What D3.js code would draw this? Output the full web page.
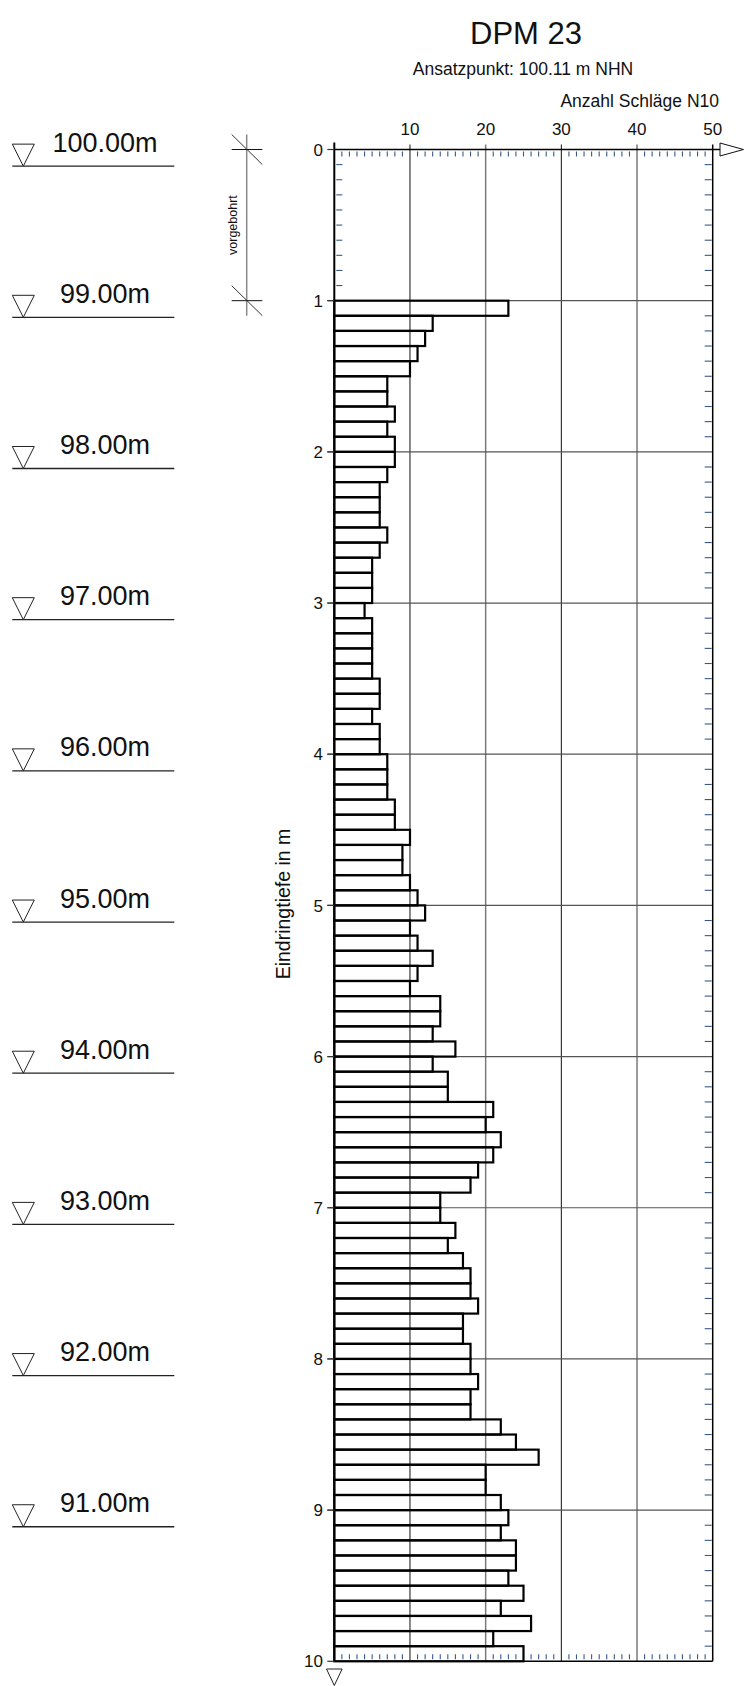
<!DOCTYPE html>
<html>
<head>
<meta charset="utf-8">
<script src="https://cdn.jsdelivr.net/npm/d3@7"></script>
<style>
  html, body { margin: 0; padding: 0; background: #fff; }
  svg { display: block; }
  text { font-family: "Liberation Sans", Arial, Helvetica, sans-serif; fill: #111; }
</style>
</head>
<body>
<svg id="chart" width="748" height="1686"></svg>
<script>
// ---- data ----
const title = "DPM 23";
const subtitle = "Ansatzpunkt: 100.11 m NHN";
const startElevation = 100.11;
const xAxisTitle = "Anzahl Schläge N10";
const yAxisTitle = "Eindringtiefe in m";
const predrillLabel = "vorgebohrt";
const predrillFrom = 0;
const predrillTo = 1;

const depthTop = [
  1.0, 1.1, 1.2, 1.3, 1.4, 1.5, 1.6, 1.7, 1.8, 1.9,
  2.0, 2.1, 2.2, 2.3, 2.4, 2.5, 2.6, 2.7, 2.8, 2.9,
  3.0, 3.1, 3.2, 3.3, 3.4, 3.5, 3.6, 3.7, 3.8, 3.9,
  4.0, 4.1, 4.2, 4.3, 4.4, 4.5, 4.6, 4.7, 4.8, 4.9,
  5.0, 5.1, 5.2, 5.3, 5.4, 5.5, 5.6, 5.7, 5.8, 5.9,
  6.0, 6.1, 6.2, 6.3, 6.4, 6.5, 6.6, 6.7, 6.8, 6.9,
  7.0, 7.1, 7.2, 7.3, 7.4, 7.5, 7.6, 7.7, 7.8, 7.9,
  8.0, 8.1, 8.2, 8.3, 8.4, 8.5, 8.6, 8.7, 8.8, 8.9,
  9.0, 9.1, 9.2, 9.3, 9.4, 9.5, 9.6, 9.7, 9.8, 9.9
];
const blows = [
  23, 13, 12, 11, 10, 7, 7, 8, 7, 8,
  8, 7, 6, 6, 6, 7, 6, 5, 5, 5,
  4, 5, 5, 5, 5, 6, 6, 5, 6, 6,
  7, 7, 7, 8, 8, 10, 9, 9, 10, 11,
  12, 10, 11, 13, 11, 10, 14, 14, 13, 16,
  13, 15, 15, 21, 20, 22, 21, 19, 18, 14,
  14, 16, 15, 17, 18, 18, 19, 17, 17, 18,
  18, 19, 18, 18, 22, 24, 27, 20, 20, 22,
  23, 22, 24, 24, 23, 25, 22, 26, 21, 25
];
const intervalLength = 0.1;

const xTicks = [10, 20, 30, 40, 50];
const yTicks = [0, 1, 2, 3, 4, 5, 6, 7, 8, 9, 10];
const levels = [100, 99, 98, 97, 96, 95, 94, 93, 92, 91];

// ---- scales ----
const svg = d3.select("#chart");
const x = d3.scaleLinear().domain([0, 50]).range([334.3, 712.7]);
const y = d3.scaleLinear().domain([0, 10]).range([149.5, 1661.3]);
const x0 = x(0), x50 = x(50), y0 = y(0), y10 = y(10);
const minorBlue = "#36598a";

// ---- titles ----
svg.append("text").attr("x", 526).attr("y", 44).attr("text-anchor", "middle")
  .attr("font-size", 31).text(title);
svg.append("text").attr("x", 523).attr("y", 75).attr("text-anchor", "middle")
  .attr("font-size", 17.5).text(subtitle);
svg.append("text").attr("x", 719).attr("y", 107).attr("text-anchor", "end")
  .attr("font-size", 17.5).text(xAxisTitle);

// ---- grid ----
const grid = svg.append("g");
grid.selectAll("line.vg").data(xTicks.filter(d => d < 50)).join("line")
  .attr("x1", d => x(d)).attr("x2", d => x(d))
  .attr("y1", y0 - 5).attr("y2", y10)
  .attr("stroke", (d, i) => i % 2 === 0 ? "#111" : "#7a7a7a")
  .attr("stroke-width", (d, i) => i % 2 === 0 ? 1 : 1.5);
grid.selectAll("line.hg").data(yTicks.filter(d => d > 0 && d < 10)).join("line")
  .attr("x1", x0 - 7).attr("x2", x50)
  .attr("y1", d => y(d)).attr("y2", d => y(d))
  .attr("stroke", "#555").attr("stroke-width", 1.2);

// ---- minor ticks ----
const minor = svg.append("g").attr("stroke", minorBlue).attr("stroke-width", 1.1);
const xMinor = d3.range(1, 50).filter(d => d % 10 !== 0);
minor.selectAll("line.tm").data(xMinor).join("line")
  .attr("x1", d => x(d)).attr("x2", d => x(d))
  .attr("y1", y0 + 2).attr("y2", y0 + 7);
minor.selectAll("line.bm").data(xMinor).join("line")
  .attr("x1", d => x(d)).attr("x2", d => x(d))
  .attr("y1", y10 - 2).attr("y2", y10 - 7);
const yMinor = d3.range(1, 100).filter(d => d % 10 !== 0).map(d => d / 10);
minor.selectAll("line.lm").data(yMinor).join("line")
  .attr("x1", x0 + 2).attr("x2", x0 + 8)
  .attr("y1", d => y(d)).attr("y2", d => y(d));
minor.selectAll("line.rm").data(yMinor).join("line")
  .attr("x1", x50 - 8).attr("x2", x50 - 1)
  .attr("y1", d => y(d)).attr("y2", d => y(d));

// ---- bars ----
svg.append("g").selectAll("rect").data(depthTop).join("rect")
  .attr("x", x0)
  .attr("y", d => y(d))
  .attr("width", (d, i) => x(blows[i]) - x0)
  .attr("height", d => y(d + intervalLength) - y(d))
  .attr("fill", "none")
  .attr("stroke", "#000")
  .attr("stroke-width", 2.2);

// ---- axes frame ----
const frame = svg.append("g");
frame.append("line").attr("x1", x0).attr("x2", 720).attr("y1", y0).attr("y2", y0)
  .attr("stroke", "#000").attr("stroke-width", 1.5);
frame.append("path")
  .attr("d", `M720,${y0 - 6.5} L743.5,${y0} L720,${y0 + 6.5} Z`)
  .attr("fill", "#fff").attr("stroke", "#111").attr("stroke-width", 1);
frame.append("line").attr("x1", x0).attr("x2", x50).attr("y1", y10).attr("y2", y10)
  .attr("stroke", "#000").attr("stroke-width", 1.5);
frame.append("line").attr("x1", x50).attr("x2", x50).attr("y1", y0 - 5).attr("y2", y10)
  .attr("stroke", "#000").attr("stroke-width", 1.5);
frame.append("line").attr("x1", x0).attr("x2", x0).attr("y1", y0 - 7).attr("y2", y10)
  .attr("stroke", "#000").attr("stroke-width", 2);
frame.selectAll("line.yt").data(yTicks).join("line")
  .attr("x1", x0 - 7).attr("x2", x0)
  .attr("y1", d => y(d)).attr("y2", d => y(d))
  .attr("stroke", "#333").attr("stroke-width", 1.2);
frame.append("path")
  .attr("d", `M${x0 - 7.8},1669 L${x0 + 7.8},1669 L${x0},1685.5 Z`)
  .attr("fill", "#fff").attr("stroke", "#222").attr("stroke-width", 1);

// tick labels
svg.append("g").selectAll("text").data(xTicks).join("text")
  .attr("x", d => x(d)).attr("y", 135).attr("text-anchor", "middle")
  .attr("font-size", 17).text(d => d);
svg.append("g").selectAll("text").data(yTicks).join("text")
  .attr("x", 323).attr("y", d => y(d)).attr("dy", "0.36em").attr("text-anchor", "end")
  .attr("font-size", 17).text(d => d);

// y axis title
svg.append("text").attr("transform", `translate(283,904) rotate(-90)`)
  .attr("text-anchor", "middle").attr("dy", "0.35em")
  .attr("font-size", 19.5).text(yAxisTitle);

// ---- predrilled marker ----
const pd = svg.append("g");
pd.append("line").attr("x1", 246.7).attr("x2", 246.7)
  .attr("y1", y(predrillFrom) - 15).attr("y2", y(predrillTo) + 15)
  .attr("stroke", "#888").attr("stroke-width", 1.5);
[predrillFrom, predrillTo].forEach(d => {
  pd.append("line").attr("x1", 231.7).attr("x2", 262.3)
    .attr("y1", y(d)).attr("y2", y(d)).attr("stroke", "#111").attr("stroke-width", 1);
  pd.append("line").attr("x1", 231.7).attr("x2", 262.3)
    .attr("y1", y(d) - 15).attr("y2", y(d) + 15).attr("stroke", "#333").attr("stroke-width", 1);
});
pd.append("text")
  .attr("transform", `translate(232.5,${(y(predrillFrom) + y(predrillTo)) / 2}) rotate(-90)`)
  .attr("text-anchor", "middle").attr("dy", "0.35em")
  .attr("font-size", 12.5).text(predrillLabel);

// ---- elevation levels ----
const lv = svg.append("g").selectAll("g").data(levels).join("g")
  .attr("transform", d => `translate(0,${y(startElevation - d)})`);
lv.append("line").attr("x1", 12.3).attr("x2", 174.3).attr("y1", 0).attr("y2", 0)
  .attr("stroke", "#222").attr("stroke-width", 1.3);
lv.append("path").attr("d", "M12.3,-22 L34.3,-22 L23.3,0 Z")
  .attr("fill", "#fff").attr("stroke", "#222").attr("stroke-width", 1);
lv.append("text").attr("x", 105).attr("y", -14.5).attr("text-anchor", "middle")
  .attr("font-size", 27).text(d => d.toFixed(2) + "m");
</script>
</body>
</html>
